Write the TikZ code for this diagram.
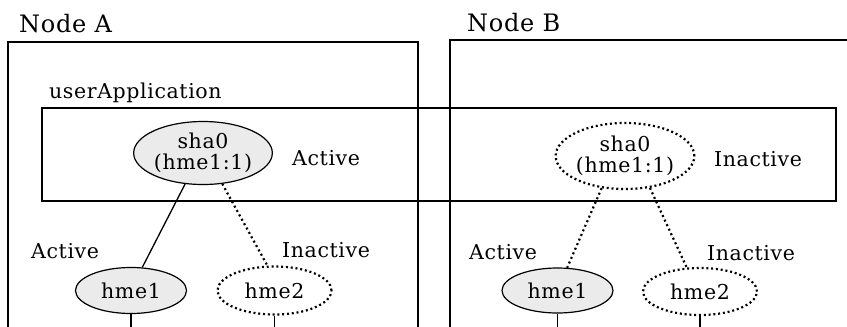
\documentclass[tikz,border=0pt]{standalone}
\usepackage{fontspec}
\setmainfont[LetterSpace=3]{DejaVu Serif}
\usetikzlibrary{shapes.geometric,positioning}
\definecolor{ink}{HTML}{000000}
\definecolor{ovalfill}{HTML}{EBEBEB}

\begin{document}
\begin{tikzpicture}[
    x=1pt,y=-1pt,
    font=\fontsize{20.5}{20.5}\selectfont,
    % --- frames ------------------------------------------------------
    frame/.style={draw=ink,line width=1.4pt},
    % --- interface ovals ---------------------------------------------
    oval/.style={ellipse,draw=ink,line width=1.2pt,inner sep=0pt,
                 align=center,text=ink},
    actv/.style={oval,fill=ovalfill},
    idle/.style={oval,line width=2.2pt,dash pattern=on 2pt off 2.8pt},
    % --- links -------------------------------------------------------
    link/.style={draw=ink,line width=1.3pt},
    dlink/.style={draw=ink,line width=2.2pt,dash pattern=on 2pt off 3pt},
    % --- labels ------------------------------------------------------
    lab/.style={anchor=base west,inner sep=0pt,text=ink},
    ttl/.style={lab,font=\fontsize{24}{24}\selectfont},
  ]
\useasboundingbox (0,0) rectangle (847,327);
\coordinate (base) at (0,327);

% =====================================================================
%  Frames
% =====================================================================
\draw[frame] (8,327) -- (8,42) -- (418,42) -- (418,327);
\draw[frame] (450,327) -- (450,40) -- (847,40);
\draw[frame] (42,108) rectangle (836,201);

\node[ttl] (nameA) at (19,32) {Node A};
\node[ttl] (nameB) at (467,31) {Node B};
\node[lab] (uapp) at (49,98) {userApplication};

% =====================================================================
%  Node A
% =====================================================================
\node[actv,minimum width=133pt,minimum height=63pt] (shaA) at (203,153)
     {sha0\\(hme1:1)};
\node[lab] at (292,165) {Active};

\node[actv,minimum width=111pt,minimum height=46pt] (h1A) at (131,290.5) {hme1};
\node[idle,minimum width=114pt,minimum height=48pt] (h2A) at (274.5,290.5) {hme2};
\node[lab] at (31,258) {Active};
\node[lab] at (282,257) {Inactive};

\draw[link] (shaA.240) -- (h1A.64);
\draw[dlink] (shaA.302) -- (h2A.106);
\draw[link] (h1A.south) -- (h1A.south |- base);
\draw[link] (h2A.south) -- (h2A.south |- base);

% =====================================================================
%  Node B
% =====================================================================
\node[idle,minimum width=136pt,minimum height=66pt] (shaB) at (625,156)
     {sha0\\(hme1:1)};
\node[lab] at (714,166) {Inactive};

\node[actv,minimum width=111pt,minimum height=45pt] (h1B) at (557.5,290.5) {hme1};
\node[idle,minimum width=114pt,minimum height=47pt] (h2B) at (700,291.5) {hme2};
\node[lab] at (469,259) {Active};
\node[lab] at (707,260) {Inactive};

\draw[dlink] (shaB.234) -- (h1B.67);
\draw[dlink] (shaB.308) -- (h2B.119);
\draw[link] (h1B.south) -- (h1B.south |- base);
\draw[link] (h2B.south) -- (h2B.south |- base);

\end{tikzpicture}
\end{document}
